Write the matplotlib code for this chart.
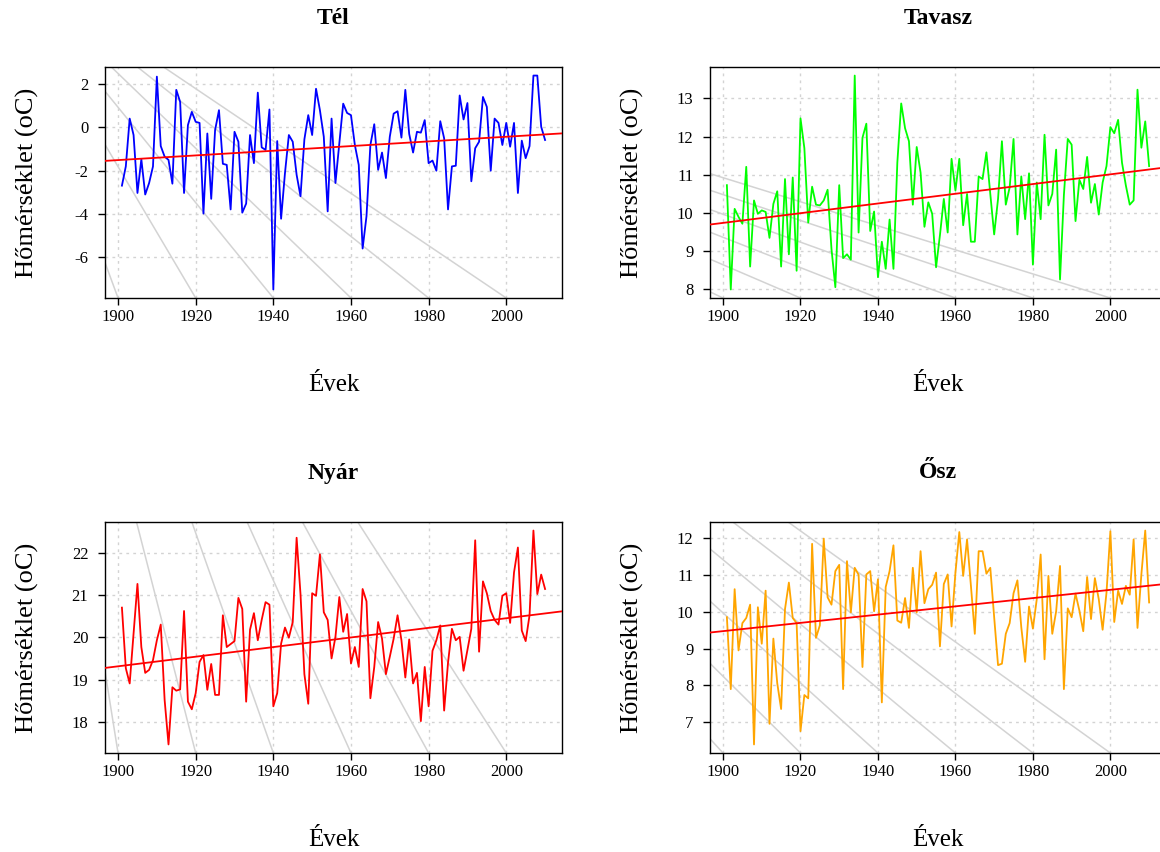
import numpy as np
import matplotlib
matplotlib.use("Agg")
import matplotlib.pyplot as plt

# Évszakos középhőmérsékletek, 1901-2010
evek = np.arange(1901, 2011)

tel = [-2.69, -1.80, 0.41, -0.35, -3.03, -1.47, -3.10, -2.57, -1.80, 2.35,
       -0.86, -1.35, -1.50, -2.60, 1.74, 1.18, -3.03, 0.11, 0.72, 0.26,
       0.21, -3.98, -0.28, -3.30, -0.12, 0.80, -1.68, -1.73, -3.79, -0.20,
       -0.66, -3.94, -3.52, -0.35, -1.65, 1.61, -0.92, -1.04, 0.83, -7.49,
       -0.63, -4.22, -2.11, -0.35, -0.66, -2.19, -3.18, -0.55, 0.57, -0.35,
       1.79, 0.80, -0.43, -3.88, 0.41, -2.57, -0.73, 1.10, 0.67, 0.57,
       -0.81, -1.73, -5.60, -4.10, -0.81, 0.15, -1.96, -1.16, -2.34, -0.43,
       0.64, 0.75, -0.47, 1.74, -0.30, -1.16, -0.20, -0.24, 0.34, -1.65,
       -1.53, -2.00, 0.29, -0.50, -3.79, -1.80, -1.77, 1.48, 0.37, 1.13,
       -2.49, -0.96, -0.66, 1.41, 0.95, -2.00, 0.41, 0.21, -0.81, 0.21,
       -0.89, 0.21, -3.03, -0.61, -1.42, -0.86, 2.40, 2.40, 0.03, -0.58]

tavasz = [10.73, 8.00, 10.11, 9.90, 9.72, 11.21, 8.60, 10.33, 9.98, 10.07,
          10.03, 9.35, 10.24, 10.57, 8.60, 10.89, 8.92, 10.93, 8.49, 12.48,
          11.70, 9.75, 10.69, 10.22, 10.20, 10.33, 10.61, 9.06, 8.06, 10.73,
          8.82, 8.92, 8.78, 13.60, 9.49, 11.97, 12.34, 9.53, 10.04, 8.32,
          9.25, 8.54, 9.83, 8.54, 11.32, 12.87, 12.22, 11.88, 10.22, 11.73,
          11.06, 9.64, 10.28, 9.98, 8.58, 9.42, 10.37, 9.49, 11.42, 10.59,
          11.42, 9.68, 10.50, 9.25, 9.25, 10.96, 10.89, 11.59, 10.50, 9.44,
          10.37, 11.88, 10.22, 10.67, 11.94, 9.44, 10.96, 9.84, 11.04, 8.65,
          10.80, 9.84, 12.05, 10.20, 10.50, 11.66, 8.26, 10.47, 11.94, 11.79,
          9.79, 10.87, 10.63, 11.47, 10.27, 10.76, 9.96, 10.80, 11.23, 12.25,
          12.09, 12.44, 11.32, 10.72, 10.22, 10.33, 13.23, 11.71, 12.40, 11.23]

nyar = [20.70, 19.27, 18.91, 20.09, 21.26, 19.77, 19.16, 19.23, 19.46, 19.93,
        20.30, 18.52, 17.47, 18.82, 18.74, 18.77, 20.62, 18.48, 18.30, 18.68,
        19.42, 19.58, 18.76, 19.37, 18.64, 18.64, 20.52, 19.77, 19.84, 19.91,
        20.93, 20.67, 18.48, 20.18, 20.57, 19.93, 20.41, 20.83, 20.77, 18.37,
        18.68, 19.85, 20.23, 19.99, 20.36, 22.35, 21.02, 19.13, 18.43, 21.04,
        20.98, 21.96, 20.59, 20.41, 19.50, 20.01, 20.95, 20.13, 20.55, 19.38,
        19.77, 19.30, 21.14, 20.85, 18.56, 19.30, 20.36, 19.97, 19.13, 19.54,
        19.97, 20.52, 19.93, 19.05, 19.95, 18.91, 19.16, 18.02, 19.30, 18.37,
        19.68, 19.93, 20.28, 18.27, 19.40, 20.20, 19.93, 20.01, 19.21, 19.70,
        20.20, 22.29, 19.66, 21.32, 21.04, 20.62, 20.41, 20.30, 20.98, 21.04,
        20.34, 21.53, 22.12, 20.16, 19.91, 20.52, 22.52, 21.02, 21.48, 21.14]

osz = [9.85, 7.90, 10.61, 8.95, 9.69, 9.83, 10.19, 6.40, 10.12, 9.13,
       10.57, 6.96, 9.27, 8.06, 7.36, 10.07, 10.79, 9.83, 9.69, 6.76,
       7.74, 7.65, 11.84, 9.29, 9.63, 11.98, 10.39, 10.19, 11.10, 11.27,
       7.90, 11.37, 9.98, 11.19, 11.00, 8.50, 11.01, 11.10, 10.01, 10.88,
       7.54, 10.67, 11.10, 11.80, 9.76, 9.70, 10.37, 9.56, 11.19, 9.98,
       11.64, 10.23, 10.61, 10.73, 11.06, 9.06, 10.75, 11.01, 9.60, 11.06,
       12.16, 10.97, 11.96, 10.70, 9.40, 11.64, 11.64, 11.03, 11.19, 9.85,
       8.55, 8.59, 9.40, 9.69, 10.50, 10.85, 9.58, 8.64, 10.14, 9.54,
       10.34, 11.55, 8.71, 10.97, 9.40, 10.01, 11.24, 7.90, 10.09, 9.85,
       10.49, 10.03, 9.47, 10.94, 9.80, 10.91, 10.34, 9.51, 10.52, 12.18,
       9.72, 10.57, 10.21, 10.70, 10.46, 11.96, 9.56, 11.01, 12.20, 10.25]

cimek = ["Tél", "Tavasz", "Nyár", "Ősz"]
szinek = ["#0000FF", "#00FF00", "#FF0000", "#FFA500"]
x_ticks = [1900, 1920, 1940, 1960, 1980, 2000]
y_ticks = [[-6, -4, -2, 0, 2], [8, 9, 10, 11, 12, 13],
           [18, 19, 20, 21, 22], [7, 8, 9, 10, 11, 12]]

plt.rcParams['font.family'] = ['Liberation Serif', 'DejaVu Serif']
plt.rcParams['axes.unicode_minus'] = False

W, H = 1160, 852
fig = plt.figure(figsize=(W / 100, H / 100), dpi=100)


def box(l, t, r, b):
  return [l / W, 1 - b / H, (r - l) / W, (b - t) / H]


boxes = [box(105, 67, 562, 298), box(710, 67, 1166, 298),
         box(105, 522, 562, 753), box(710, 522, 1166, 753)]

# the grey rays all start from one point above-left of the page
ray_origin = (-10, H + 50)

for i, vals in enumerate([tel, tavasz, nyar, osz]):
  vals = np.array(vals)
  ax = fig.add_axes(boxes[i])
  pad = 0.04 * (evek.max() - evek.min())
  ax.set_xlim(evek.min() - pad, evek.max() + pad)
  pad = 0.04 * (vals.max() - vals.min())
  ylo, yhi = vals.min() - pad, vals.max() + pad
  ax.set_ylim(ylo, yhi)

  # dotted grid
  for xt in x_ticks:
    ax.axvline(xt, color='#D3D3D3', lw=1, ls=(0, (2, 3)), zorder=1)
  for yt in y_ticks[i]:
    ax.axhline(yt, color='#D3D3D3', lw=1, ls=(0, (2, 3)), zorder=1)

  ox, oy = ax.transData.inverted().transform(ray_origin)
  for xt in x_ticks:
    ax.plot([ox, xt], [oy, ylo], color='#D3D3D3', lw=1.1, zorder=2)

  ax.plot(evek, vals, color=szinek[i], lw=1.3, zorder=3)

  b, a = np.polyfit(evek, vals, 1)
  xx = np.array(ax.get_xlim())
  ax.plot(xx, a + b * xx, color='#FF0000', lw=1.3, zorder=4)
  ax.set_xlim(xx)
  ax.set_ylim(ylo, yhi)

  ax.set_xticks(x_ticks)
  ax.set_yticks(y_ticks[i])
  ax.tick_params(direction='out', length=5, width=1, labelsize=12)
  ax.tick_params(axis='x', pad=3)
  ax.tick_params(axis='y', pad=7)
  for sp in ax.spines.values():
    sp.set_linewidth(1)

  ax.text(0.5, 1 + 49 / 231, cimek[i], transform=ax.transAxes, ha='center',
          va='center', fontsize=17, fontweight='bold')
  ax.text(0.5, -87 / 231, "Évek", transform=ax.transAxes, ha='center',
          va='center', fontsize=18)
  ax.text(-78 / 457, 0.5, "Hőmérséklet (oC)", transform=ax.transAxes,
          ha='center', va='center', rotation=90, fontsize=19)

fig.savefig("out.png", dpi=100)
